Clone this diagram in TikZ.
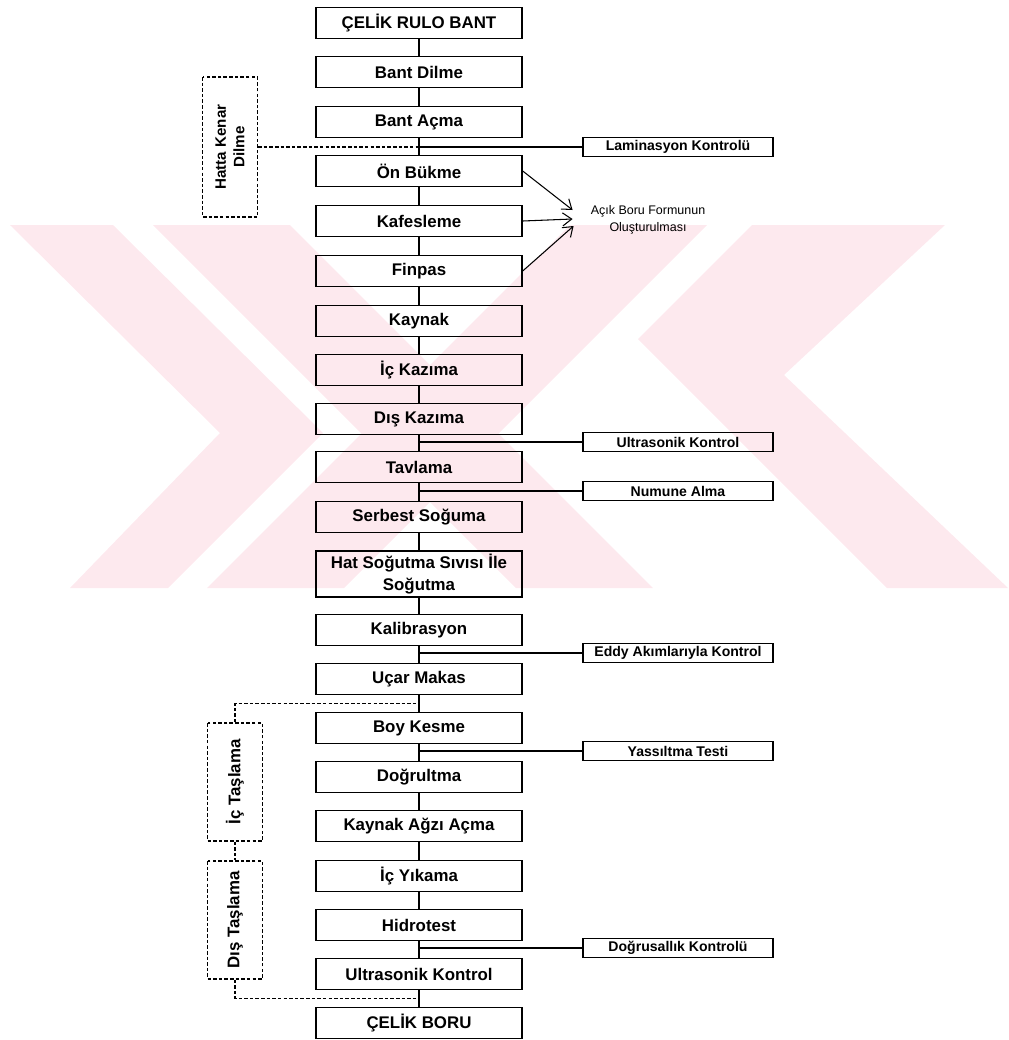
\documentclass[tikz,border=0pt]{standalone}
\usepackage{fontspec}
\setmainfont{Liberation Sans}
\usepackage{tikz}
\usetikzlibrary{arrows.meta, calc}
\definecolor{wmpink}{RGB}{253,233,238}

\begin{document}
\begin{tikzpicture}[x=0.2mm, y=-0.2mm,
    stepbox/.style={draw, line width=0.8pt, minimum width=41.2mm, minimum height=6.2mm, inner sep=1pt, align=center, font=\bfseries\fontsize{9.6}{13}\selectfont},
    ctrlbox/.style={draw, line width=0.7pt, minimum width=38mm, minimum height=3.8mm, inner sep=0pt, font=\bfseries\fontsize{8}{9}\selectfont},
    grindbox/.style={draw, dash pattern=on 2pt off 1.2pt, line width=0.7pt, rotate=90, minimum height=11mm, align=center, inner sep=1pt},
    link/.style={line width=0.6pt},
    dashlink/.style={line width=0.6pt, dash pattern=on 2pt off 1.2pt}]
\useasboundingbox (0,0) rectangle (1008,1040);
% watermark
\fill[wmpink] (10,225) -- (113,225) -- (323,433) -- (168,588) -- (70,588) -- (220,433) -- cycle;
\fill[wmpink] (153,225) -- (290,225) -- (653,588) -- (516,588) -- cycle;
\fill[wmpink] (570,225) -- (707,225) -- (344,588) -- (207,588) -- cycle;
\fill[wmpink] (752,225) -- (945,225) -- (784,375) -- (1008,588) -- (887,588) -- (638,339) -- cycle;

% Production line
\foreach \y/\n/\t in {23/crb/ÇELİK RULO BANT, 72/bd/Bant Dilme, 122/ba/Bant Açma, 171/ob/Ön Bükme,
    221/kf/Kafesleme, 271/fp/Finpas, 321/ky/Kaynak, 370/ik/İç Kazıma, 419/dk/Dış Kazıma,
    467/tv/Tavlama, 517/ss/Serbest Soğuma, 630/kl/Kalibrasyon, 679/um/Uçar Makas,
    728/bk/Boy Kesme, 777/dg/Doğrultma, 826/ka/Kaynak Ağzı Açma, 876/iy/İç Yıkama,
    925/ht/Hidrotest, 974/uk/Ultrasonik Kontrol, 1023/cb/ÇELİK BORU}
    \node[stepbox] (\n) at (419,\y) {\t};
\node[stepbox, minimum height=9.2mm] (hs) at (419,574) {Hat Soğutma Sıvısı İle\\Soğutma};
\foreach \a/\b in {crb/bd, bd/ba, ba/ob, ob/kf, kf/fp, fp/ky, ky/ik, ik/dk, dk/tv, tv/ss,
    ss/hs, hs/kl, kl/um, um/bk, bk/dg, dg/ka, ka/iy, iy/ht, ht/uk, uk/cb}
    \draw[link] (\a) -- (\b);

% Controls
\foreach \y/\n/\t in {147/lk/Laminasyon Kontrolü, 442/usk/Ultrasonik Kontrol, 491/na/Numune Alma,
    653/ed/Eddy Akımlarıyla Kontrol, 751/yt/Yassıltma Testi, 948/dgk/Doğrusallık Kontrolü}
    \node[ctrlbox] (\n) at (678,\y) {\t};
\foreach \n/\m in {lk/ba, usk/dk, na/tv, ed/kl, yt/bk, dgk/ht}
    \draw[link] (\n.west) -- (\n.west -| \m.south);

% Side operations
\node[grindbox, minimum width=28mm, font=\bfseries\fontsize{8.6}{10.5}\selectfont] (hk) at (230,147) {Hatta Kenar\\Dilme};
\node[grindbox, minimum width=23.6mm, font=\bfseries\fontsize{9.6}{11}\selectfont] (it) at (235,782) {İç Taşlama};
\node[grindbox, minimum width=23.6mm, font=\bfseries\fontsize{9.6}{11}\selectfont] (dt) at (235,920) {Dış Taşlama};
\draw[dashlink] (hk.south) -- (hk.south -| ba.south);
\draw[dashlink] (it.east) |- ($(um.south)!0.5!(bk.north)$);
\draw[dashlink] (it.west) -- (dt.east);
\draw[dashlink] (dt.west) |- ($(uk.south)!0.5!(cb.north)$);

% Forming
\node[font=\fontsize{7.1}{9.7}\selectfont, align=center] (ab) at (648,220) {Açık Boru Formunun\\Oluşturulması};
\draw[link, -{Straight Barb[length=1.8mm, width=2.6mm]}] (ob.east) -- ($(ab.west)+(-12,-10)$);
\draw[link, -{Straight Barb[length=1.8mm, width=2.6mm]}] (kf.east) -- ($(ab.west)+(-12,-1)$);
\draw[link, -{Straight Barb[length=1.8mm, width=2.6mm]}] (fp.east) -- ($(ab.west)+(-11,6)$);
\end{tikzpicture}
\end{document}
